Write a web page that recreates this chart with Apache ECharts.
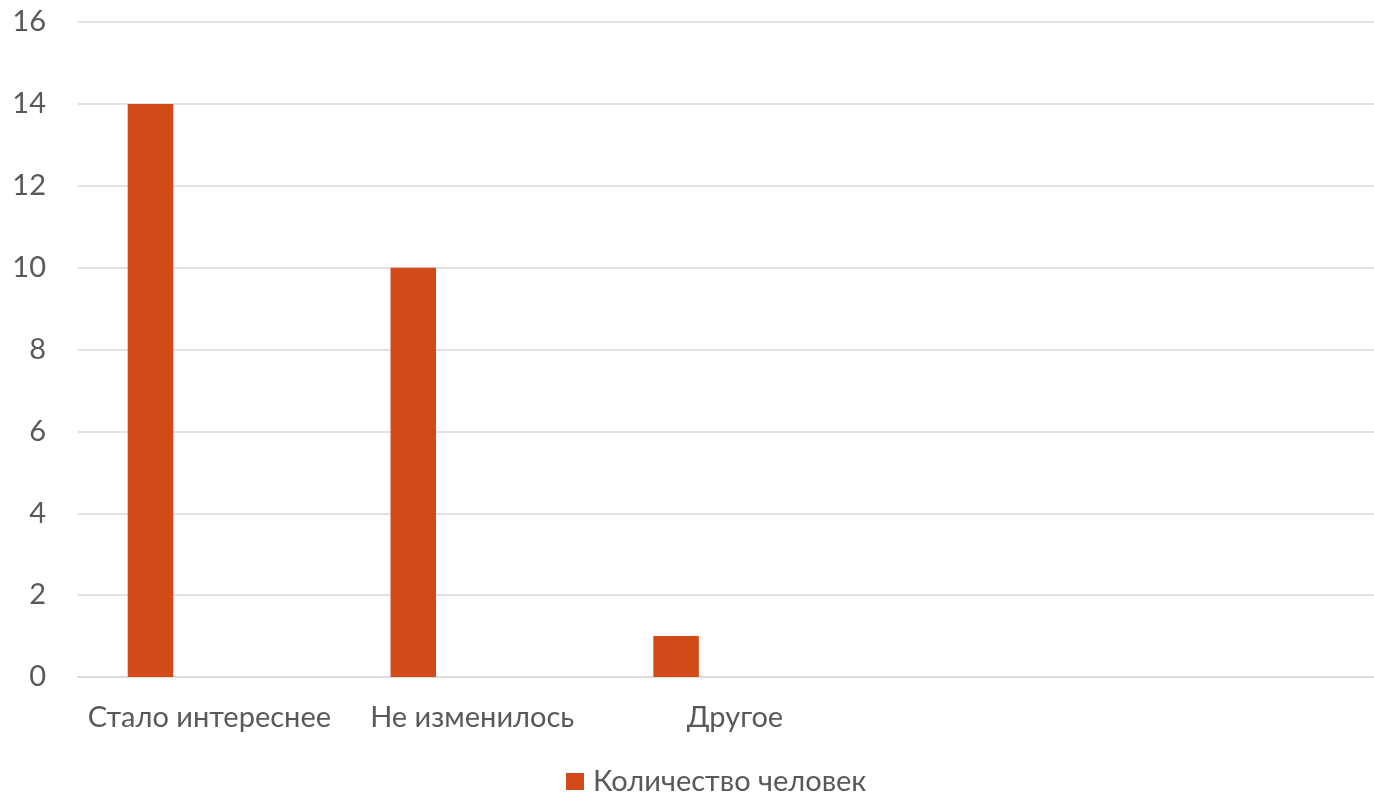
<!DOCTYPE html>
<html>
<head>
<meta charset="utf-8">
<script src="https://cdn.jsdelivr.net/npm/echarts@6/dist/echarts.min.js"></script>
<style>
  html, body { margin: 0; padding: 0; background: #ffffff; overflow: hidden; }
  /* the plot area continues slightly beyond the right edge of the window */
  #chart { width: 1392px; height: 795px; }
</style>
</head>
<body>
<div id="chart"></div>
<script>
// Survey answers: how the subject changed
const categories = ['Стало интереснее', 'Не изменилось', 'Другое', '', ''];
const peopleCount = [14, 10, 1, null, null];
const seriesName = 'Количество человек';
const yTicks = { min: 0, max: 16, interval: 2 };

const textColor = '#595959';
const fontFamily = 'Lato, "Open Sans", sans-serif';
const fontSize = 29;

const chart = echarts.init(document.getElementById('chart'), null, { renderer: 'canvas' });

chart.setOption({
  animation: false,
  backgroundColor: '#ffffff',
  grid: { left: 78, right: 0, top: 22, bottom: 118, containLabel: false },
  legend: {
    data: [seriesName],
    bottom: -6,
    left: 561,
    itemWidth: 18,
    itemHeight: 17,
    icon: 'rect',
    itemGap: 9,
    textStyle: { color: textColor, fontSize: fontSize, fontFamily: fontFamily, padding: [0, 0, 0, 4] }
  },
  xAxis: {
    type: 'category',
    data: categories,
    axisLine: { lineStyle: { color: '#d9d9d9', width: 1.5 } },
    axisTick: { show: false },
    axisLabel: { color: textColor, fontSize: fontSize, fontFamily: fontFamily, margin: 26, interval: 0 }
  },
  yAxis: {
    type: 'value',
    min: yTicks.min,
    max: yTicks.max,
    interval: yTicks.interval,
    axisLine: { show: false },
    axisTick: { show: false },
    splitLine: { lineStyle: { color: '#d9d9d9', width: 1.5 } },
    axisLabel: { color: textColor, fontSize: fontSize, fontFamily: fontFamily, margin: 32 }
  },
  series: [
    {
      name: seriesName,
      type: 'bar',
      data: peopleCount,
      barWidth: 45.5,
      barGap: '159%',
      itemStyle: { color: '#D24A17' }
    },
    {
      // placeholder slot in the cluster, no values
      name: ' ',
      type: 'bar',
      data: [],
      barWidth: 45.5,
      barGap: '159%'
    }
  ]
});
</script>
</body>
</html>
